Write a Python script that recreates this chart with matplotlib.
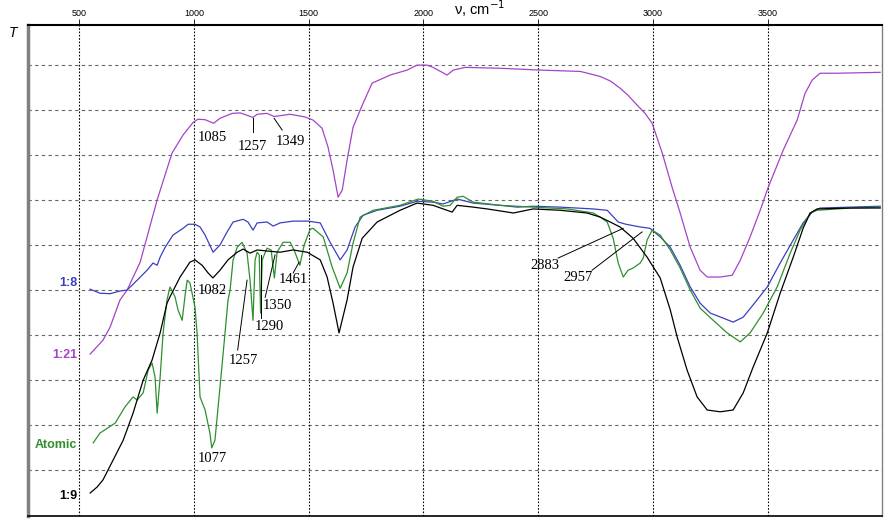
import matplotlib
matplotlib.use("Agg")
import matplotlib.pyplot as plt

# IR spectra, wavenumber (cm-1) vs transmittance (arbitrary units, grid step = 10)
wn_121 = [547, 603, 634, 677, 708, 765, 839, 904, 952, 996, 1017, 1048, 1085, 1113, 1166, 1201, 1257,
          1275, 1318, 1349, 1419, 1484, 1519, 1558, 1584, 1606, 1628, 1646, 1667, 1693, 1733, 1776,
          1855, 1929, 1972, 2016, 2042, 2103, 2130, 2182, 2335, 2509, 2684, 2770, 2814, 2857, 2892,
          2932, 2966, 2997, 3041, 3084, 3119, 3163, 3206, 3237, 3294, 3346, 3381, 3424, 3468, 3503,
          3568, 3629, 3664, 3695, 3729, 3803, 3991]
t_121 = [35.8, 38.9, 41.8, 47.8, 50.0, 56.2, 70.0, 80.4, 84.4, 87.2, 87.9, 87.8, 87.0, 88.1, 89.2, 89.3, 88.3,
         89.0, 89.2, 88.5, 89.0, 88.4, 87.7, 85.9, 81.7, 76.6, 70.6, 72.2, 78.8, 86.1, 91.0, 95.9,
         97.7, 98.8, 99.9, 99.9, 99.4, 97.7, 98.8, 99.4, 99.2, 98.8, 98.5, 97.4, 96.4, 94.8, 93.2,
         91.0, 89.2, 87.0, 80.4, 72.8, 67.1, 59.5, 54.4, 52.9, 52.9, 53.3, 56.6, 61.8, 67.7, 72.8,
         81.0, 87.7, 93.7, 96.6, 98.1, 98.1, 98.3]

wn_18 = [547, 590, 634, 677, 708, 752, 795, 821, 839, 852, 874, 908, 952, 974, 1004, 1026, 1048, 1083,
         1113, 1144, 1170, 1214, 1235, 1257, 1275, 1318, 1345, 1375, 1432, 1497, 1550, 1593, 1637,
         1667, 1702, 1737, 1798, 1898, 1972, 2042, 2086, 2147, 2217, 2335, 2409, 2478, 2596, 2740,
         2801, 2849, 2883, 2945, 2988, 3032, 3076, 3119, 3163, 3206, 3250, 3306, 3350, 3394, 3437,
         3499, 3555, 3612, 3655, 3695, 3729, 3860, 3991]
t_18 = [50.2, 49.3, 49.2, 49.8, 50.0, 52.2, 54.4, 56.0, 55.5, 57.3, 59.5, 62.2, 63.7, 64.6, 64.6, 64.0, 62.2, 58.4,
        60.0, 62.9, 65.1, 65.7, 65.1, 63.3, 64.9, 65.1, 64.2, 64.9, 65.3, 65.3, 64.9, 60.6, 56.7,
        58.9, 64.0, 66.6, 67.7, 68.6, 69.7, 69.5, 69.1, 70.2, 69.3, 68.8, 68.4, 68.6, 68.4, 68.0,
        67.7, 65.1, 64.6, 64.0, 63.7, 61.8, 59.5, 55.5, 50.7, 47.1, 44.9, 43.8, 42.9, 44.0, 46.7,
        50.7, 56.0, 61.1, 64.9, 67.3, 68.2, 68.4, 68.6]

wn_19 = [547, 577, 603, 647, 691, 734, 778, 817, 852, 882, 895, 939, 982, 1004, 1035, 1061, 1082, 1113,
         1148, 1188, 1214, 1244, 1275, 1332, 1375, 1432, 1493, 1550, 1580, 1606, 1632, 1667, 1693,
         1733, 1798, 1898, 1972, 2042, 2086, 2125, 2147, 2217, 2278, 2392, 2478, 2596, 2713, 2770,
         2814, 2857, 2914, 2975, 3032, 3076, 3106, 3149, 3193, 3237, 3294, 3350, 3394, 3437, 3499,
         3555, 3612, 3655, 3686, 3716, 3860, 3991]
t_19 = [5.0, 6.3, 7.9, 12.3, 16.7, 22.7, 30.0, 34.5, 40.5, 47.1, 48.5, 52.9, 56.2, 56.7, 55.5, 53.8, 52.7, 54.4,
        56.7, 58.4, 59.1, 58.2, 58.9, 58.6, 58.4, 58.9, 58.4, 56.7, 52.9, 47.1, 40.5, 47.8, 55.1,
        61.5, 65.1, 67.7, 69.3, 68.8, 68.0, 67.3, 68.8, 68.4, 68.0, 67.1, 68.0, 67.7, 67.1, 66.2,
        65.1, 64.0, 61.5, 57.3, 52.7, 45.6, 39.6, 32.3, 26.3, 23.4, 23.0, 23.4, 27.2, 32.9, 40.5,
        49.3, 57.3, 63.7, 67.1, 68.0, 68.2, 68.2]

wn_at = [560, 590, 656, 699, 734, 752, 778, 800, 817, 830, 839, 852, 865, 882, 895, 917, 930, 948, 961,
         970, 982, 1004, 1013, 1026, 1048, 1069, 1077, 1091, 1113, 1135, 1148, 1157, 1170, 1188, 1209,
         1231, 1244, 1257, 1266, 1275, 1284, 1290, 1297, 1318, 1336, 1350, 1362, 1388, 1419, 1436,
         1461, 1480, 1506, 1519, 1563, 1602, 1637, 1667, 1693, 1724, 1781, 1898, 1977, 2042, 2086,
         2116, 2147, 2173, 2217, 2335, 2478, 2627, 2740, 2770, 2801, 2827, 2849, 2871, 2892, 2914,
         2945, 2958, 2975, 2997, 3019, 3032, 3076, 3119, 3163, 3206, 3263, 3324, 3381, 3424, 3481,
         3542, 3599, 3642, 3686, 3716, 3860, 3991]
t_at = [16.1, 18.3, 20.5, 24.1, 26.3, 25.6, 27.2, 32.3, 33.8, 30.7, 22.7, 30.7, 40.5, 47.8, 50.7, 48.5, 45.6, 43.3, 48.9,
        52.2, 51.6, 46.2, 40.5, 26.3, 23.4, 18.3, 15.0, 16.7, 28.5, 40.5, 47.8, 50.0, 56.7, 59.5, 60.6,
        58.2, 52.2, 43.3, 56.7, 58.4, 57.8, 44.9, 56.7, 59.3, 58.9, 52.7, 58.4, 60.6, 60.6, 58.9,
        55.5, 60.0, 63.5, 63.7, 61.8, 55.1, 50.4, 53.8, 60.4, 66.2, 67.7, 68.8, 70.2, 69.7, 68.6,
        68.8, 70.6, 70.8, 69.5, 68.8, 68.4, 68.0, 67.1, 66.2, 65.1, 61.5, 56.0, 52.9, 54.4, 54.9,
        56.0, 57.1, 61.1, 63.3, 62.6, 62.2, 58.9, 54.9, 50.0, 46.0, 43.3, 40.5, 38.5, 40.5, 44.9,
        50.7, 58.2, 63.3, 67.1, 67.7, 68.2, 68.4]

series_names = ["1:8", "1:21", "Atomic", "1:9"]
series_label_t = [51.6, 35.6, 15.6, 4.3]
colors = ["#3c40c0", "#a444c8", "#2f8f2f", "#000000"]

x_ticks = [500, 1000, 1500, 2000, 2500, 3000, 3500]

# peak labels: (text, label x, label y, leader start, leader end)
peak_labels = [
    ("1085", 1078, 83.9, None, None),
    ("1257", 1253, 81.9, (1257, 88.2), (1257, 85.0)),
    ("1349", 1419, 83.0, (1349, 88.1), (1384, 85.5)),
    ("1082", 1078, 50.0, None, None),
    ("1077", 1078, 12.7, None, None),
    ("1257", 1214, 34.3, (1190, 36.7), (1231, 52.2)),
    ("1290", 1327, 42.0, (1291, 43.8), (1291, 57.8)),
    ("1350", 1362, 46.5, (1310, 48.4), (1353, 57.8)),
    ("1461", 1432, 52.4, (1432, 53.8), (1458, 56.2)),
    ("2883", 2531, 55.5, (2587, 57.1), (2871, 63.7)),
    ("2957", 2675, 52.7, (2735, 54.4), (2953, 62.9)),
]

fig = plt.figure(figsize=(8.9, 5.24), dpi=100)
ax = fig.add_axes([28 / 890, 8.5 / 524, 854 / 890, 490.5 / 524])

for y in range(10, 101, 10):
    ax.axhline(y, color="#666666", lw=0.8, dashes=(3, 3), zorder=1)
for x in x_ticks:
    ax.axvline(x, color="black", lw=0.8, dashes=(1.5, 1.5), zorder=1)

ax.plot(wn_121, t_121, color=colors[1], lw=0.9, zorder=3)
ax.plot(wn_18, t_18, color=colors[0], lw=0.9, zorder=3)
ax.plot(wn_at, t_at, color=colors[2], lw=0.9, zorder=3)
ax.plot(wn_19, t_19, color=colors[3], lw=0.9, zorder=4)

for name, ty, c in zip(series_names, series_label_t, colors):
    ax.text(490, ty, name, color=c, fontsize=9, fontweight="bold",
            family="Liberation Sans", ha="right", va="center")

for txt, lx, ly, p0, p1 in peak_labels:
    ax.text(lx, ly, txt, fontsize=10.5, family="Liberation Serif", ha="center", va="center", zorder=5)
    if p0 is not None:
        ax.plot([p0[0], p1[0]], [p0[1], p1[1]], color="black", lw=0.7, zorder=5)

ax.set_xlim(276, 3999)
ax.set_ylim(0, 108.8)
ax.set_xticks(x_ticks)
ax.set_yticks([])
ax.xaxis.tick_top()
ax.tick_params(axis="x", direction="out", length=4, width=0.6, labelsize=6.5, pad=1)
for lbl in ax.get_xticklabels():
    lbl.set_family("Liberation Sans")

ax.spines["top"].set_linewidth(1.5)
ax.spines["bottom"].set_linewidth(1.2)
ax.spines["left"].set_color("#808080")
ax.spines["left"].set_linewidth(2.5)
ax.spines["right"].set_color("#808080")
ax.spines["right"].set_linewidth(1.0)

fig.text(13 / 890, 1 - 33 / 524, "T", fontsize=10, style="italic", family="Liberation Sans",
         ha="center", va="center")
fig.text(480 / 890, 1 - 9 / 524, "ν, cm$^{-1}$", fontsize=10.5, family="Liberation Sans",
         ha="center", va="center")

fig.savefig("out.png", dpi=100)
